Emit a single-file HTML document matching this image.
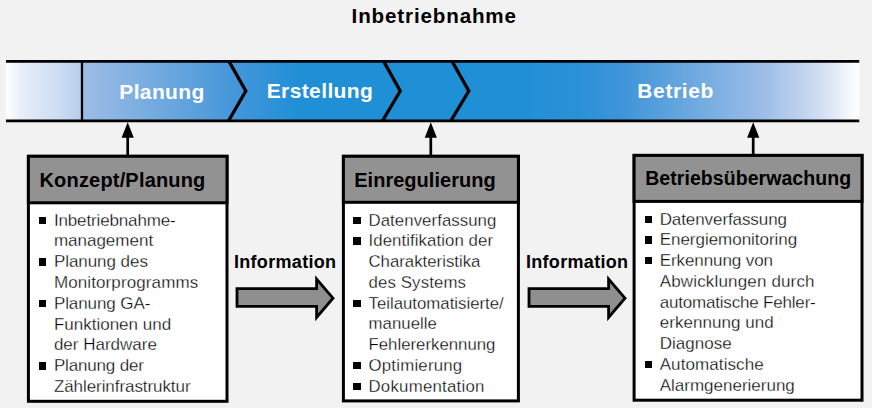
<!DOCTYPE html>
<html lang="de">
<head>
<meta charset="utf-8">
<title>Inbetriebnahme</title>
<style>
html,body{margin:0;padding:0;}
body{width:872px;height:408px;overflow:hidden;background:#f2f2f2;position:relative;
  font-family:"Liberation Sans",sans-serif;color:#111;}
#gfx{position:absolute;left:0;top:0;width:872px;height:408px;}
.t{position:absolute;white-space:nowrap;font-weight:bold;line-height:1;}
#title{left:351.6px;top:6.1px;font-size:20.6px;letter-spacing:0.85px;color:#000;}
.ph{color:#fff;font-size:21px;}
#p1{left:119.3px;top:81.2px;letter-spacing:0.36px;}
#p2{left:266.7px;top:79.7px;letter-spacing:0.39px;}
#p3{left:637.3px;top:80.3px;letter-spacing:0.62px;}
.hd{font-size:20px;color:#000;}
#h1{left:39.5px;top:170.1px;letter-spacing:0.18px;}
#h2{left:354.2px;top:170.1px;letter-spacing:0.03px;}
#h3{left:645.2px;top:169.4px;font-size:19.5px;letter-spacing:0.06px;}
.inf{font-size:18px;color:#000;letter-spacing:0.32px;}
#i1{left:233.9px;top:252.6px;}
#i2{left:525.9px;top:252.6px;}
ul{position:absolute;margin:0;padding:0;list-style:none;font-size:17px;line-height:20.8px;color:#000;white-space:nowrap;-webkit-text-stroke:0.3px #fff;}
li{position:relative;margin:0;padding:0;}
li span{display:block;}
li:before{content:"";position:absolute;left:-15.2px;top:6.1px;width:7.2px;height:7.2px;background:#000;}
#l1{left:53.9px;top:210.7px;}
#l2{left:368.5px;top:210.5px;font-size:16.8px;}
#l3{left:659.7px;top:209.5px;}
</style>
</head>
<body>
<svg id="gfx" width="872" height="408" viewBox="0 0 872 408">
  <defs>
    <linearGradient id="bg" gradientUnits="userSpaceOnUse" x1="6" y1="0" x2="859.3" y2="0">
      <stop offset="0.0" stop-color="#ffffff"/>
      <stop offset="0.0164" stop-color="#e9eff9"/>
      <stop offset="0.0352" stop-color="#dce6f6"/>
      <stop offset="0.0586" stop-color="#d0def3"/>
      <stop offset="0.0879" stop-color="#b7ceec"/>
      <stop offset="0.0902" stop-color="#9dbde6"/>
      <stop offset="0.2625" stop-color="#4797d9"/>
      <stop offset="0.3445" stop-color="#1f8fd6"/>
      <stop offset="0.6024" stop-color="#1f8fd6"/>
      <stop offset="0.6668" stop-color="#2a91d7"/>
      <stop offset="0.7196" stop-color="#3d94d8"/>
      <stop offset="0.8871" stop-color="#9cbde7"/>
      <stop offset="0.9305" stop-color="#bdd2ee"/>
      <stop offset="0.9598" stop-color="#d5e1f4"/>
      <stop offset="0.9821" stop-color="#eef3fb"/>
      <stop offset="0.9985" stop-color="#ffffff"/>
      <stop offset="1.0" stop-color="#ffffff"/>
    </linearGradient>
  </defs>
  <!-- phase band -->
  <rect x="6" y="61" width="853.3" height="60" fill="url(#bg)"/>
  <g fill="none" stroke="#000" stroke-width="2.7">
    <line x1="6" y1="61.4" x2="859.3" y2="61.4"/>
    <line x1="6" y1="120.8" x2="859.3" y2="120.8"/>
    <line x1="82" y1="61" x2="82" y2="121" stroke-width="2.3"/>
    <polyline points="229,61.4 245.8,91 228.6,120.8" stroke-width="3.3" stroke-linejoin="miter"/>
    <polyline points="383.7,61.4 400.2,91 382.5,120.8" stroke-width="3.3" stroke-linejoin="miter"/>
    <polyline points="452.1,61.4 468.8,91 450.8,120.8" stroke-width="3.3" stroke-linejoin="miter"/>
  </g>
  <!-- up arrows -->
  <g stroke="#000" stroke-width="2.7" fill="#000">
    <line x1="127.7" y1="155" x2="127.7" y2="136"/>
    <line x1="430.8" y1="155" x2="430.8" y2="136"/>
    <line x1="753.2" y1="155" x2="753.2" y2="136"/>
  </g>
  <g fill="#000">
    <polygon points="127.7,122.3 133.8,137.8 121.6,137.8"/>
    <polygon points="430.8,122.3 436.9,137.8 424.7,137.8"/>
    <polygon points="753.2,122.3 759.3,137.8 747.1,137.8"/>
  </g>
  <!-- boxes -->
  <g stroke="#000" stroke-width="3">
    <rect x="28.4" y="156.3" width="198.6" height="245" fill="#ffffff"/>
    <rect x="28.4" y="156.3" width="198.6" height="46.5" fill="#929292"/>
    <rect x="343.4" y="156.3" width="175" height="244.6" fill="#ffffff"/>
    <rect x="343.4" y="156.3" width="175" height="46" fill="#929292"/>
    <rect x="634.1" y="155.4" width="227.9" height="244.8" fill="#ffffff"/>
    <rect x="634.1" y="155.4" width="227.9" height="46" fill="#929292"/>
  </g>
  <!-- information arrows -->
  <g stroke="#000" stroke-width="2.8" fill="#8f8f8f" stroke-linejoin="miter">
    <polygon points="237,288.6 316.6,288.6 316.6,279.1 333,298.2 316.6,317.4 316.6,306.4 237,306.4"/>
    <polygon points="529,288.6 608.6,288.6 608.6,279.1 625,298.2 608.6,317.4 608.6,306.4 529,306.4"/>
  </g>
</svg>

<div class="t" id="title">Inbetriebnahme</div>
<div class="t ph" id="p1">Planung</div>
<div class="t ph" id="p2">Erstellung</div>
<div class="t ph" id="p3">Betrieb</div>

<div class="t hd" id="h1">Konzept/Planung</div>
<div class="t hd" id="h2">Einregulierung</div>
<div class="t hd" id="h3">Betriebsüberwachung</div>

<div class="t inf" id="i1">Information</div>
<div class="t inf" id="i2">Information</div>

<ul id="l1">
  <li><span style="letter-spacing:-0.14px">Inbetriebnahme-</span><span>management</span></li>
  <li><span style="letter-spacing:-0.05px">Planung des</span><span style="letter-spacing:0.11px">Monitorprogramms</span></li>
  <li><span style="letter-spacing:-0.08px">Planung GA-</span><span>Funktionen und</span><span>der Hardware</span></li>
  <li><span style="letter-spacing:-0.17px">Planung der</span><span style="letter-spacing:-0.07px">Zählerinfrastruktur</span></li>
</ul>
<ul id="l2">
  <li><span style="letter-spacing:0.07px">Datenverfassung</span></li>
  <li><span style="letter-spacing:0.08px">Identifikation der</span><span>Charakteristika</span><span style="letter-spacing:0.14px">des Systems</span></li>
  <li><span>Teilautomatisierte/</span><span style="letter-spacing:0.04px">manuelle</span><span>Fehlererkennung</span></li>
  <li><span style="letter-spacing:0.23px">Optimierung</span></li>
  <li><span style="letter-spacing:0.25px">Dokumentation</span></li>
</ul>
<ul id="l3">
  <li><span style="letter-spacing:-0.09px">Datenverfassung</span></li>
  <li><span style="letter-spacing:-0.03px">Energiemonitoring</span></li>
  <li><span style="letter-spacing:-0.09px">Erkennung von</span><span style="letter-spacing:0.16px">Abwicklungen durch</span><span style="letter-spacing:-0.19px">automatische Fehler-</span><span style="letter-spacing:0.04px">erkennung und</span><span style="letter-spacing:0.04px">Diagnose</span></li>
  <li><span style="letter-spacing:0.09px">Automatische</span><span>Alarmgenerierung</span></li>
</ul>
</body>
</html>
